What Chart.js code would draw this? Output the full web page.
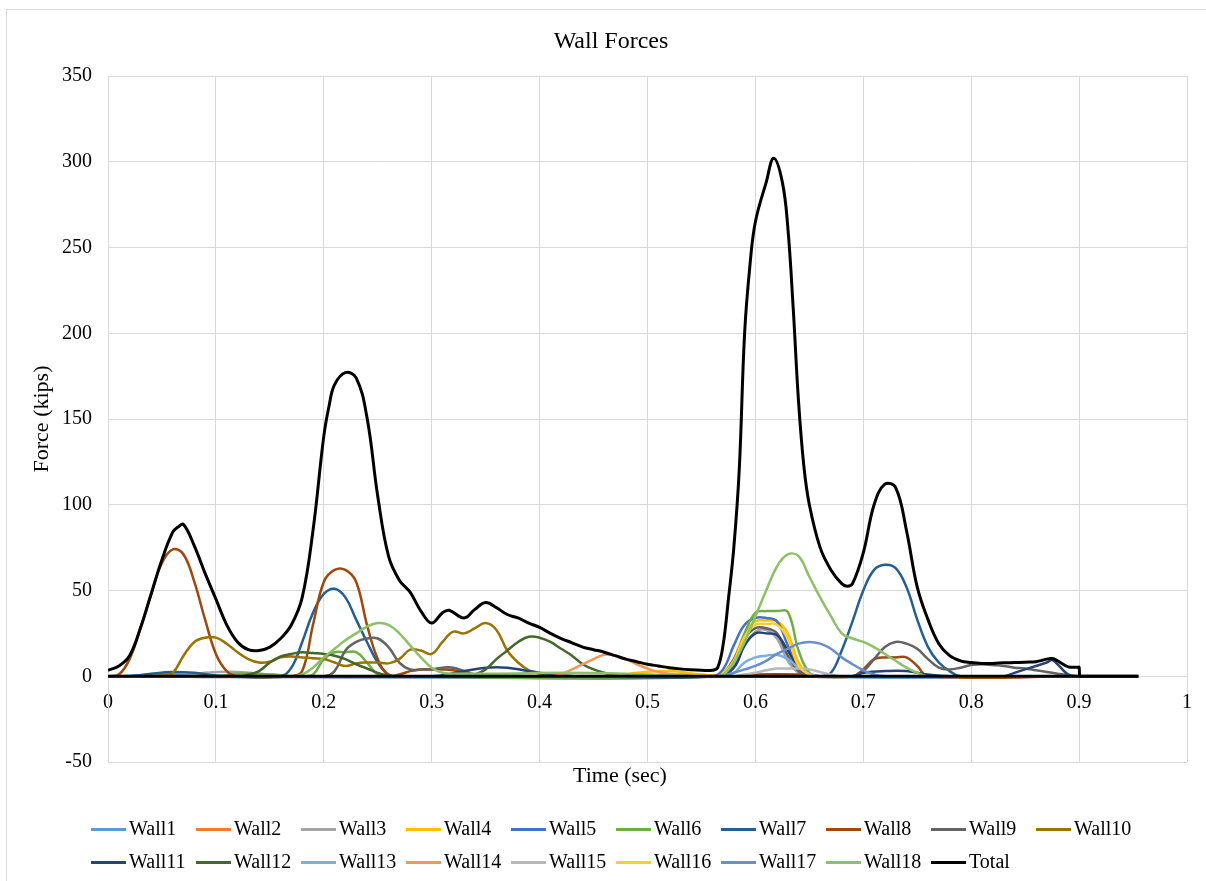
<!DOCTYPE html>
<html>
<head>
<meta charset="utf-8">
<script src="https://cdn.jsdelivr.net/npm/chart.js@4"></script>
<style>
  body { margin: 0; background: #fff; font-family: "Liberation Serif", "Times New Roman", serif; }
  #wrap { position: relative; width: 1206px; height: 881px; overflow: hidden; }
  #frame { position: absolute; left: 6px; top: 9px; width: 1210px; height: 880px; border: 1px solid #d9d9d9; }
  canvas { position: absolute; left: 0; top: 0; }
  .txt { position: absolute; color: #000; white-space: nowrap; }
  #legend .item { position: absolute; font-size: 20px; line-height: 24px; white-space: nowrap; }
  #legend .mark { display: inline-block; width: 35px; height: 3px; vertical-align: middle; margin-right: 3px; position: relative; top: -1px; }
</style>
</head>
<body>
<div id="wrap">
  <div id="frame"></div>
  <canvas id="chart" width="1206" height="881"></canvas>
  <div class="txt" style="left:511px; top:27px; width:200px; text-align:center; font-size:24px;">Wall Forces</div>
  <div class="txt" style="left:520px; top:762px; width:200px; text-align:center; font-size:22px;">Time (sec)</div>
  <div id="legend"></div>
</div>
<script>
// time (sec), force (kips) pairs
const wall1 = [[0,0],[0.02,0.3],[0.04,1],[0.06,1.2],[0.08,0.8],[0.1,0.2],[0.12,0],[0.9,0]];
const wall2 = [[0,0],[0.5,0],[0.53,1],[0.56,0.5],[0.58,0],[0.9,0]];
const wall3 = [[0,0],[0.07,0],[0.09,2],[0.12,2.5],[0.15,1],[0.17,0],[0.57,0],[0.58,6],[0.59,18],[0.6,26],[0.61,27],[0.62,22],[0.63,9],[0.64,2],[0.65,0],[0.9,0]];
const wall4 = [[0,0],[0.47,0],[0.49,2],[0.52,3],[0.55,1],[0.565,0.5],[0.57,2],[0.58,10],[0.59,25],[0.6,32],[0.61,32.5],[0.62,32],[0.63,25],[0.64,8],[0.65,1],[0.66,0],[0.9,0]];
const wall5 = [[0,0],[0.56,0],[0.57,4],[0.58,18],[0.59,30],[0.6,34],[0.61,34],[0.62,32],[0.63,18],[0.64,5],[0.65,0],[0.9,0]];
const wall6 = [[0,0],[0.1,0],[0.12,1.5],[0.15,1],[0.18,0],[0.19,1],[0.2,10],[0.21,14],[0.22,14],[0.23,14],[0.24,8],[0.25,1],[0.26,0],[0.57,0],[0.58,8],[0.59,25],[0.6,37],[0.61,38],[0.62,38],[0.63,37.5],[0.64,15],[0.65,2],[0.66,0],[0.9,0]];
const wall7 = [[0,0],[0.02,0],[0.04,1.5],[0.06,2.5],[0.08,2],[0.1,0.5],[0.16,0],[0.17,5],[0.18,20],[0.19,37],[0.2,48],[0.21,51],[0.22,46],[0.23,33],[0.24,20],[0.25,8],[0.26,1],[0.27,0],[0.66,0],[0.67,2],[0.68,15],[0.69,32],[0.7,50],[0.71,62],[0.72,65],[0.73,63],[0.74,52],[0.75,33],[0.76,17],[0.77,8],[0.78,3],[0.79,0],[0.9,0]];
const wall8 = [[0,0],[0.01,1],[0.02,10],[0.03,28],[0.04,48],[0.05,66],[0.06,74],[0.07,71],[0.08,55],[0.09,33],[0.1,13],[0.11,3],[0.12,0],[0.17,0],[0.18,3],[0.19,30],[0.2,55],[0.21,62],[0.22,62],[0.23,55],[0.24,30],[0.25,10],[0.26,0.5],[0.27,1],[0.28,3],[0.29,4],[0.3,4],[0.31,4],[0.32,3.5],[0.33,2],[0.34,0.5],[0.36,0],[0.59,0],[0.6,1],[0.64,1],[0.66,0],[0.69,0],[0.7,4],[0.71,10],[0.72,11],[0.73,11],[0.74,11],[0.75,6],[0.76,0],[0.9,0]];
const wall9 = [[0,0],[0.2,0],[0.21,3],[0.22,15],[0.23,20],[0.24,22],[0.25,22],[0.26,17],[0.27,8],[0.28,4],[0.29,4],[0.3,4],[0.31,5],[0.32,5],[0.33,3],[0.34,1],[0.35,0],[0.565,0],[0.57,1],[0.58,10],[0.59,22],[0.6,28],[0.61,28],[0.62,25],[0.63,12],[0.64,3],[0.65,0],[0.69,0],[0.7,3],[0.71,10],[0.72,17],[0.73,20],[0.74,19],[0.75,16],[0.76,10],[0.77,5],[0.78,4],[0.79,5],[0.8,6.5],[0.81,7],[0.82,6.5],[0.83,6],[0.84,5],[0.85,4.5],[0.86,3.5],[0.87,2.5],[0.88,1.5],[0.89,0.5],[0.9,0]];
const wall10 = [[0,0],[0.04,0],[0.05,0.5],[0.06,2],[0.07,12],[0.08,20],[0.09,22.5],[0.1,22.5],[0.11,19],[0.12,14],[0.13,10],[0.14,8],[0.15,8.5],[0.16,11],[0.17,11.5],[0.18,11],[0.19,10.5],[0.2,10],[0.21,8],[0.22,6],[0.23,7.5],[0.24,8],[0.25,8],[0.26,7.5],[0.27,10],[0.28,15.5],[0.29,15],[0.3,13],[0.31,20],[0.32,26],[0.33,25],[0.34,28],[0.35,31],[0.36,27],[0.37,15],[0.38,8],[0.39,3.5],[0.4,1.5],[0.41,0.5],[0.42,0],[0.9,0]];
const wall11 = [[0,0],[0.3,0],[0.33,3],[0.35,5],[0.37,5],[0.39,3],[0.42,0.5],[0.44,0],[0.565,0],[0.58,5],[0.59,18],[0.6,25],[0.61,25],[0.62,24],[0.63,15],[0.64,5],[0.65,1],[0.66,0],[0.69,0],[0.7,2],[0.72,3],[0.74,3],[0.76,1],[0.78,0],[0.83,0],[0.84,2],[0.85,4],[0.86,6],[0.87,8],[0.875,9.5],[0.88,7],[0.89,1],[0.9,0]];
const wall12 = [[0,0],[0.12,0],[0.13,1],[0.14,3],[0.15,8],[0.16,11.5],[0.17,13],[0.18,14],[0.19,13.5],[0.2,13],[0.21,12],[0.22,10],[0.23,7],[0.24,4.5],[0.25,2],[0.26,0.5],[0.27,0],[0.33,0],[0.34,1],[0.35,4],[0.36,10],[0.37,15],[0.38,20],[0.39,23],[0.4,22.5],[0.41,20],[0.42,16],[0.43,12],[0.44,7],[0.45,4],[0.46,2],[0.47,0.5],[0.48,0],[0.9,0]];
const wall13 = [[0,0],[0.57,0],[0.58,2],[0.59,8],[0.6,11],[0.61,12],[0.62,12.5],[0.63,10],[0.64,5],[0.65,1.5],[0.66,0],[0.9,0]];
const wall14 = [[0,0],[0.41,0],[0.42,1],[0.43,4],[0.44,7],[0.45,10],[0.46,12.5],[0.47,12],[0.48,10],[0.49,7],[0.5,4.5],[0.51,2.5],[0.52,1.5],[0.53,0.5],[0.54,0],[0.9,0]];
const wall15 = [[0,0],[0.58,0],[0.59,1],[0.6,2],[0.61,3.5],[0.62,4.5],[0.63,4.5],[0.64,4.5],[0.65,4],[0.66,2.5],[0.67,1],[0.68,0],[0.9,0]];
const wall16 = [[0,0],[0.565,0],[0.57,1.5],[0.58,9],[0.59,23],[0.6,30],[0.61,30.5],[0.62,30],[0.63,22],[0.64,6],[0.65,1],[0.66,0],[0.9,0]];
const wall17 = [[0,0],[0.56,0],[0.57,0.5],[0.58,2],[0.59,4],[0.6,6],[0.61,9],[0.62,13],[0.63,16],[0.64,19],[0.65,20],[0.66,19],[0.67,16],[0.68,11],[0.69,7],[0.7,3.5],[0.71,1],[0.72,0],[0.9,0]];
const wall18 = [[0,0],[0.17,0],[0.18,1],[0.19,5],[0.2,11],[0.21,16],[0.22,21],[0.23,25],[0.24,29],[0.25,31],[0.26,30],[0.27,25],[0.28,18],[0.29,11],[0.3,5],[0.31,2],[0.32,1.5],[0.36,1.5],[0.42,2],[0.48,1.5],[0.52,0.5],[0.56,0],[0.57,1],[0.58,8],[0.59,20],[0.6,35],[0.61,50],[0.62,64],[0.63,71],[0.64,70],[0.65,58],[0.66,46],[0.67,35],[0.68,25],[0.69,22],[0.7,20],[0.71,17],[0.72,13],[0.73,9],[0.74,5],[0.75,2],[0.76,0],[0.9,0]];
const total = [[0,3.5],[0.01,6],[0.02,12],[0.03,28],[0.04,48],[0.05,68],[0.06,84],[0.065,87],[0.07,88.5],[0.08,76],[0.09,60],[0.1,45],[0.11,30],[0.12,20],[0.13,15.5],[0.14,15],[0.15,17],[0.16,22],[0.17,30],[0.18,46],[0.19,85],[0.2,140],[0.205,158],[0.21,170],[0.22,177],[0.23,174],[0.24,151],[0.25,105],[0.26,70],[0.27,56],[0.28,49],[0.29,38],[0.3,31],[0.31,37],[0.316,38.5],[0.33,34],[0.34,39],[0.35,43],[0.36,40],[0.37,36],[0.38,34],[0.39,31],[0.4,28.5],[0.41,25],[0.42,22],[0.43,19.5],[0.44,17],[0.45,15.5],[0.46,14],[0.47,12],[0.48,10],[0.49,8.5],[0.5,7],[0.51,6],[0.52,5],[0.53,4.3],[0.54,3.8],[0.55,3.5],[0.56,3.5],[0.565,5],[0.57,18],[0.575,45],[0.58,75],[0.585,120],[0.59,200],[0.595,240],[0.6,265],[0.61,288],[0.617,302],[0.625,288],[0.63,262],[0.635,215],[0.64,160],[0.645,122],[0.65,100],[0.66,75],[0.67,62],[0.68,54],[0.685,52.5],[0.69,54],[0.7,72],[0.71,100],[0.72,112],[0.73,110],[0.74,85],[0.75,52],[0.76,33],[0.77,19],[0.78,12],[0.79,9],[0.8,8],[0.81,7.5],[0.82,7.5],[0.83,7.8],[0.84,8],[0.85,8.2],[0.86,8.5],[0.87,10],[0.875,10.3],[0.88,9],[0.89,5.5],[0.899,5.3],[0.9,5.3],[0.9005,0],[0.901,0],[0.91,0],[0.955,0]];
const zeroLine = [[0,0],[0.955,0]];

const seriesNames = ["Wall1","Wall2","Wall3","Wall4","Wall5","Wall6","Wall7","Wall8","Wall9","Wall10",
  "Wall11","Wall12","Wall13","Wall14","Wall15","Wall16","Wall17","Wall18","Total"];
const seriesData = [wall1,wall2,wall3,wall4,wall5,wall6,wall7,wall8,wall9,wall10,
  wall11,wall12,wall13,wall14,wall15,wall16,wall17,wall18,total];
const seriesColors = ["#5B9BD5","#ED7D31","#A5A5A5","#FFC000","#4472C4","#70AD47","#255E91","#9E480E","#636363","#997300",
  "#264478","#43682B","#7CAFDD","#F1975A","#B7B7B7","#FFCD33","#698ED0","#8CC168","#000000"];

const xTicks = { min: 0, max: 1, step: 0.1 };
const yTicks = { min: -50, max: 350, step: 50 };

const FONT = "'Liberation Serif', 'Times New Roman', serif";
const toPts = arr => arr.map(p => ({ x: p[0], y: p[1] }));

const datasets = seriesNames.map((name, i) => ({
  label: name,
  data: toPts(seriesData[i]),
  borderColor: seriesColors[i],
  backgroundColor: seriesColors[i],
  borderWidth: name === "Total" ? 3 : 2.5,
  pointRadius: 0,
  tension: 0.4,
  fill: false,
  order: seriesNames.length - i   // later series on top, like the original
}));
datasets.push({
  label: "zero",
  data: toPts(zeroLine),
  borderColor: "#000",
  borderWidth: 3,
  pointRadius: 0,
  order: 0
});

new Chart(document.getElementById("chart"), {
  type: "line",
  data: { datasets },
  options: {
    responsive: false,
    animation: false,
    devicePixelRatio: 1,
    layout: { padding: { left: 0, right: 17, top: 76, bottom: 119 } },
    plugins: { legend: { display: false }, tooltip: { enabled: false }, title: { display: false } },
    scales: {
      x: {
        type: "linear",
        position: { y: 0 },
        min: xTicks.min, max: xTicks.max,
        ticks: {
          stepSize: xTicks.step,
          padding: 14,
          color: "#000",
          font: { family: FONT, size: 20 },
          callback: v => +v.toFixed(1)
        },
        grid: { color: "#d9d9d9", drawTicks: false },
        border: { display: false }
      },
      y: {
        min: yTicks.min, max: yTicks.max,
        ticks: { stepSize: yTicks.step, padding: 16, color: "#000", font: { family: FONT, size: 20 } },
        grid: { color: "#d9d9d9", drawTicks: false },
        border: { color: "#d9d9d9" },
        title: { display: true, text: "Force (kips)", color: "#000", font: { family: FONT, size: 22 }, padding: { top: 29, bottom: 0 } },
        afterFit: s => { s.width = 108; }
      }
    }
  }
});

// legend laid out as a 10-column grid, as in the original
const legend = document.getElementById("legend");
seriesNames.forEach((name, i) => {
  const row = Math.floor(i / 10), col = i % 10;
  const el = document.createElement("div");
  el.className = "item";
  el.style.left = (91 + col * 105) + "px";
  el.style.top = (816 + row * 33) + "px";
  el.innerHTML = '<span class="mark" style="background:' + seriesColors[i] + '"></span>' + name;
  legend.appendChild(el);
});
</script>
</body>
</html>
